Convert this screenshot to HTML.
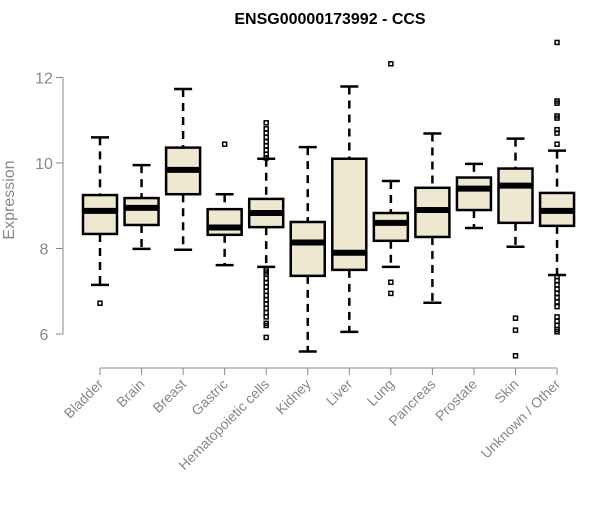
<!DOCTYPE html>
<html><head><meta charset="utf-8"><style>
body{margin:0;background:#fff;}
svg text{font-family:"Liberation Sans",Arial,sans-serif;}
</style></head><body>
<svg id="chart" width="600" height="500" xmlns="http://www.w3.org/2000/svg">
<text x="330" y="24" text-anchor="middle" font-size="16" font-weight="bold">ENSG00000173992 - CCS</text>
<g id="yaxis"></g>
<text transform="translate(14,200) rotate(-90)" text-anchor="middle" font-size="16" fill="#888">Expression</text>
<g id="xaxis"></g>
<g id="boxes"></g>
</svg>
<script>
const categories=["Bladder","Brain","Breast","Gastric","Hematopoietic cells","Kidney","Liver","Lung","Pancreas","Prostate","Skin","Unknown / Other"];
const whiskerLow=[7.15,7.99,7.97,7.61,7.57,5.59,6.05,7.57,6.73,8.48,8.04,7.38];
const q1=[8.34,8.55,9.27,8.32,8.5,7.36,7.5,8.18,8.27,8.9,8.6,8.53];
const medians=[8.88,8.95,9.84,8.49,8.83,8.14,7.9,8.6,8.9,9.4,9.47,8.88];
const q3=[9.25,9.18,10.36,8.92,9.16,8.62,10.1,8.83,9.42,9.66,9.87,9.3];
const whiskerHigh=[10.6,9.95,11.73,9.27,10.1,10.37,11.79,9.58,10.69,9.98,10.57,10.29];
const outliers=[[6.72],[],[],[10.44],
[10.12,10.2,10.3,10.4,10.5,10.6,10.7,10.8,10.94,7.5,7.45,7.4,7.3,7.2,7.1,7.0,6.9,6.8,6.7,6.6,6.5,6.4,6.25,6.2,5.92],
[],[],[12.32,7.21,6.95],[],[],[6.37,6.09,5.49],
[12.82,11.45,11.4,11.1,11.05,10.78,10.7,10.44,7.34,7.25,7.15,7.05,6.95,6.85,6.75,6.64,6.4,6.3,6.2,6.1,6.05]];
const yTicks=[6,8,10,12];
const NS="http://www.w3.org/2000/svg";
const y=v=>334-(v-6)*42.75;
const x=i=>100+i*41.55;
function mk(parent,tag,attrs){const e=document.createElementNS(NS,tag);for(const k in attrs)e.setAttribute(k,attrs[k]);parent.appendChild(e);return e;}
const ya=document.getElementById('yaxis'),xa=document.getElementById('xaxis'),bx=document.getElementById('boxes');
mk(ya,'line',{x1:63,x2:63,y1:y(6),y2:y(12),stroke:'#888','stroke-width':1});
yTicks.forEach(t=>{
 const l=mk(ya,'line',{x1:56,x2:63,y1:y(t),y2:y(t),stroke:'#888'});
 
 
 const tx=mk(ya,'text',{x:44,y:y(t)+6,'text-anchor':'middle','font-size':16,fill:'#888'});
 tx.textContent=t;
 
 
});
mk(xa,'line',{x1:x(0),x2:x(11),y1:368,y2:368,stroke:'#888'});
categories.forEach((c,i)=>{
 const l=mk(xa,'line',{x1:x(i),x2:x(i),y1:368,y2:375,stroke:'#888'});
 
 
 const tx=mk(xa,'text',{transform:`translate(${x(i)+4},${385}) rotate(-45)`,'text-anchor':'end','font-size':14,fill:'#888'});
 tx.textContent=c;
 
 
});
categories.forEach((c,i)=>{
 const g=mk(bx,'g',{});
 
 
 const cx=x(i),w=17;
 mk(g,'line',{x1:cx,x2:cx,y1:y(whiskerHigh[i]),y2:y(q3[i]),stroke:'#000','stroke-width':2.5,'stroke-dasharray':'8,6'});
 mk(g,'line',{x1:cx,x2:cx,y1:y(q1[i]),y2:y(whiskerLow[i]),stroke:'#000','stroke-width':2.5,'stroke-dasharray':'8,6'});
 mk(g,'line',{x1:cx-9,x2:cx+9,y1:y(whiskerHigh[i]),y2:y(whiskerHigh[i]),stroke:'#000','stroke-width':2.5});
 mk(g,'line',{x1:cx-9,x2:cx+9,y1:y(whiskerLow[i]),y2:y(whiskerLow[i]),stroke:'#000','stroke-width':2.5});
 mk(g,'rect',{x:cx-w,y:y(q3[i]),width:2*w,height:y(q1[i])-y(q3[i]),fill:'#ede8cf',stroke:'#000','stroke-width':2.5});
 mk(g,'line',{x1:cx-w,x2:cx+w,y1:y(medians[i]),y2:y(medians[i]),stroke:'#000','stroke-width':6});
 outliers[i].forEach(v=>{
  const o=mk(g,'rect',{x:cx-2,y:y(v)-2,width:4,height:4,fill:'none',stroke:'#000','stroke-width':1.5});
  
  
 });
});
</script>
</body></html>
